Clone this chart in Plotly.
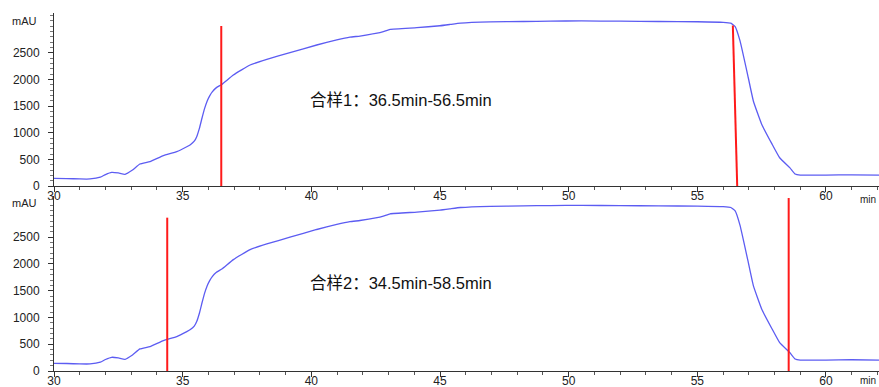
import plotly.graph_objects as go

# ---- data ----
time_min = [30.0, 30.5, 31.0, 31.4, 31.8, 32.0, 32.24, 32.5, 32.76, 33.05, 33.34, 33.73,
            34.25, 34.77, 35.16, 35.3, 35.45, 35.55, 35.65, 35.75, 35.85, 35.95, 36.05,
            36.15, 36.3, 36.52, 36.97, 37.62, 38.27, 39.17, 40.21, 40.99, 41.5, 41.89,
            42.5, 42.8, 43.06, 44.1, 45.0, 45.4, 45.8, 46.95, 48.24, 49.28, 50.5, 52.0,
            53.5, 55.0, 56.0, 56.3, 56.47, 56.66, 56.98, 57.18, 57.5, 57.9, 58.2, 58.6,
            58.8, 59.0, 60.0, 61.0, 62.06]
absorb_mau = [144, 140, 132, 132, 165, 215, 256, 245, 219, 300, 412, 456,
              568, 644, 737, 775, 840, 930, 1080, 1270, 1450, 1590, 1690,
              1765, 1840, 1905, 2081, 2269, 2375, 2500, 2644, 2738, 2790, 2812,
              2860, 2894, 2938, 2969, 3005, 3030, 3055, 3078, 3085, 3092, 3095, 3090,
              3085, 3080, 3070, 3055, 2990, 2720, 2030, 1590, 1160, 790, 530, 340,
              225, 205, 205, 210, 205]

# cut marks (red lines): x at top end, x at bottom end, height
pool1_x = [36.5, 36.5]
pool1_y = [3000, 0]
pool1_end_x = [56.38, 56.55]
pool1_end_y = [3010, 0]
pool2_x = [34.4, 34.4]
pool2_y = [2865, 0]
pool2_end_x = [58.55, 58.55]
pool2_end_y = [3232, 0]

pool1_text = "合样1：36.5min-56.5min"
pool2_text = "合样2：34.5min-58.5min"
x_ticks = [30, 35, 40, 45, 50, 55, 60]
y_ticks = [0, 500, 1000, 1500, 2000, 2500]

W, H = 879, 387
LINE = "#5c5cf2"
RED = "#ff1a1a"
FONT = "Liberation Sans, Arial, Noto Sans CJK SC"

fig = go.Figure()
for xa, ya in [("x", "y"), ("x2", "y2")]:
    fig.add_trace(go.Scatter(x=time_min, y=absorb_mau, mode="lines",
                             line=dict(color=LINE, width=1.3, shape="spline", smoothing=0.35),
                             xaxis=xa, yaxis=ya, showlegend=False, hoverinfo="skip"))

for xs, ys, xa, ya in [(pool1_x, pool1_y, "x", "y"), (pool1_end_x, pool1_end_y, "x", "y"),
                       (pool2_x, pool2_y, "x2", "y2"), (pool2_end_x, pool2_end_y, "x2", "y2")]:
    fig.add_trace(go.Scatter(x=xs, y=ys, mode="lines", line=dict(color=RED, width=2),
                             xaxis=xa, yaxis=ya, showlegend=False, hoverinfo="skip"))

xdom = [54 / W, 1]
common_x = dict(range=[30, 62.06], domain=xdom, showline=True, linecolor="#333", linewidth=1,
                ticks="outside", ticklen=5, tickcolor="#333", tickvals=x_ticks,
                minor=dict(dtick=1, ticks="outside", ticklen=3, tickcolor="#555"),
                showgrid=False, zeroline=False, automargin=False, ticklabelstandoff=-6,
                tickfont=dict(family=FONT, size=12, color="#222"))
common_y = dict(showline=True, linecolor="#333", linewidth=1, ticks="outside", ticklen=5,
                tickcolor="#333", tickvals=y_ticks,
                minor=dict(dtick=100, ticks="outside", ticklen=3, tickcolor="#777"),
                showgrid=False, zeroline=False, automargin=False, ticklabelstandoff=6,
                tickfont=dict(family=FONT, size=12, color="#222"))

fig.update_layout(
    width=W, height=H, margin=dict(l=0, r=0, t=0, b=0, pad=0),
    paper_bgcolor="white", plot_bgcolor="white",
    xaxis=dict(common_x, anchor="y"),
    yaxis=dict(common_y, domain=[1 - 186 / H, 1 - 13 / H], range=[0, 3244], anchor="x"),
    xaxis2=dict(common_x, anchor="y2"),
    yaxis2=dict(common_y, domain=[1 - 371 / H, 1 - 196 / H], range=[0, 3270], anchor="x2"),
)

def px(xp, yp, text, size, anchor="center", color="#222"):
    fig.add_annotation(x=xp / W, y=1 - yp / H, xref="paper", yref="paper", text=text,
                       showarrow=False, xanchor=anchor, yanchor="middle",
                       font=dict(family=FONT, size=size, color=color))

px(24, 21, "mAU", 11)
px(24, 203, "mAU", 11)
px(878, 199, "min", 10, anchor="right")
px(878, 380, "min", 10, anchor="right")
px(308, 100, pool1_text, 16.5, anchor="left", color="#111")
px(308, 283, pool2_text, 16.5, anchor="left", color="#111")

fig.write_html("out.html", config={"displayModeBar": False},
               post_script="document.body.style.margin='0';document.body.style.overflow='hidden';")
